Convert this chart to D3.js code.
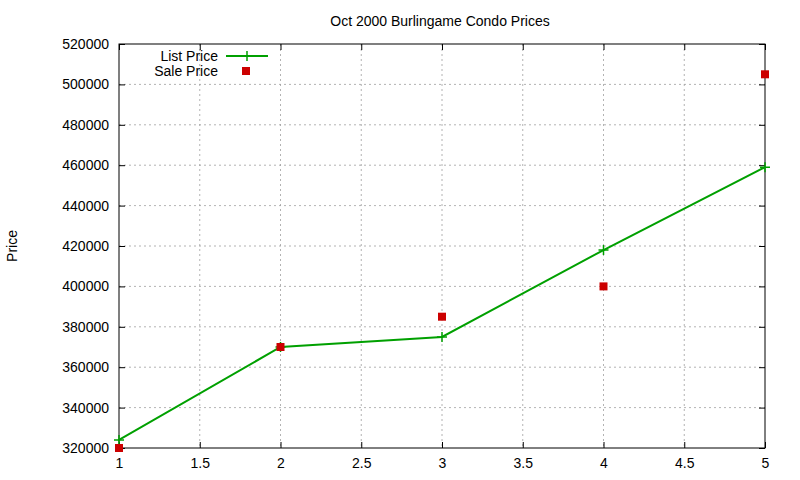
<!DOCTYPE html>
<html><head><meta charset="utf-8">
<script src="https://cdn.jsdelivr.net/npm/d3@7"></script>
<style>body{margin:0;background:#fff}text{font-family:"Liberation Sans",Arial,sans-serif;font-size:14px;fill:#000}</style>
</head><body>
<svg id="chart" width="800" height="480"></svg>
<script>
var months     = [1, 2, 3, 4, 5];
var listPrice  = [324000, 370000, 375000, 418000, 459000];
var salePrice  = [320000, 370000, 385000, 400000, 505000];
var xTicks     = [1, 1.5, 2, 2.5, 3, 3.5, 4, 4.5, 5];
var yTicks     = d3.range(320000, 520001, 20000);

var svg = d3.select('#chart'),
  pLeft = 119, pRight = 765, pTop = 44, pBottom = 448;

var x = d3.scaleLinear().domain([1, 5]).range([pLeft, pRight]);
var y = d3.scaleLinear().domain([320000, 520000]).range([pBottom, pTop]);

//grid
var grid = svg.append('g').attr('stroke', '#a0a0a0').attr('stroke-dasharray', '2,3').attr('stroke-width', 0.8);
xTicks.slice(1, -1).forEach(function(t){ grid.append('line').attr('x1', x(t)).attr('x2', x(t)).attr('y1', pTop).attr('y2', pBottom) });
yTicks.slice(1, -1).forEach(function(t){ grid.append('line').attr('y1', y(t)).attr('y2', y(t)).attr('x1', pLeft).attr('x2', pRight) });

svg.append('rect').attr('x', pLeft).attr('y', pTop).attr('width', pRight-pLeft).attr('height', pBottom-pTop)
  .attr('fill', 'none').attr('stroke', '#000');

//axes
var xa = svg.append('g').attr('transform', 'translate(0,'+pBottom+')')
  .call(d3.axisBottom(x).tickValues(xTicks).tickSize(-6).tickPadding(10).tickFormat(d3.format('')));
var xt = svg.append('g').attr('transform', 'translate(0,'+pTop+')')
  .call(d3.axisTop(x).tickValues(xTicks).tickSize(-6).tickFormat(''));
var ya = svg.append('g').attr('transform', 'translate('+pLeft+',0)')
  .call(d3.axisLeft(y).tickValues(yTicks).tickSize(-6).tickPadding(10).tickFormat(d3.format('d')));
var yr = svg.append('g').attr('transform', 'translate('+pRight+',0)')
  .call(d3.axisRight(y).tickValues(yTicks).tickSize(-6).tickFormat(''));
[xa, xt, ya, yr].forEach(function(a){ a.select('.domain').remove(); a.selectAll('text').style('font-size', '14px'); });

svg.append('text').attr('x', 440).attr('y', 26).attr('text-anchor', 'middle').text('Oct 2000 Burlingame Condo Prices');
svg.append('text').attr('transform', 'translate(17,246) rotate(-90)').attr('text-anchor', 'middle').text('Price');

//list price line
var line = d3.line().x(function(d, i){ return x(months[i]) }).y(function(d){ return y(d) });
svg.append('path').datum(listPrice).attr('d', line).attr('fill', 'none').attr('stroke', '#00a000').attr('stroke-width', 2);
function plus(g, cx, cy){
  g.append('path').attr('d', 'M'+(cx-5)+','+cy+'h10M'+cx+','+(cy-5)+'v10').attr('stroke', '#00a000').attr('stroke-width', 1.5);
}
listPrice.forEach(function(d, i){ plus(svg, x(months[i]), y(d)) });

//sale price points
svg.selectAll('rect.sale').data(salePrice).enter().append('rect').attr('class', 'sale')
  .attr('x', function(d, i){ return x(months[i]) - 4 }).attr('y', function(d){ return y(d) - 4 })
  .attr('width', 8).attr('height', 8).attr('fill', '#cc0000');

//legend
svg.append('text').attr('x', 218).attr('y', 61).attr('text-anchor', 'end').text('List Price');
svg.append('line').attr('x1', 226).attr('x2', 268).attr('y1', 56).attr('y2', 56).attr('stroke', '#00a000').attr('stroke-width', 2);
plus(svg, 247, 56);
svg.append('text').attr('x', 218).attr('y', 76).attr('text-anchor', 'end').text('Sale Price');
svg.append('rect').attr('x', 242).attr('y', 67).attr('width', 8).attr('height', 8).attr('fill', '#cc0000');
</script>
</body></html>
